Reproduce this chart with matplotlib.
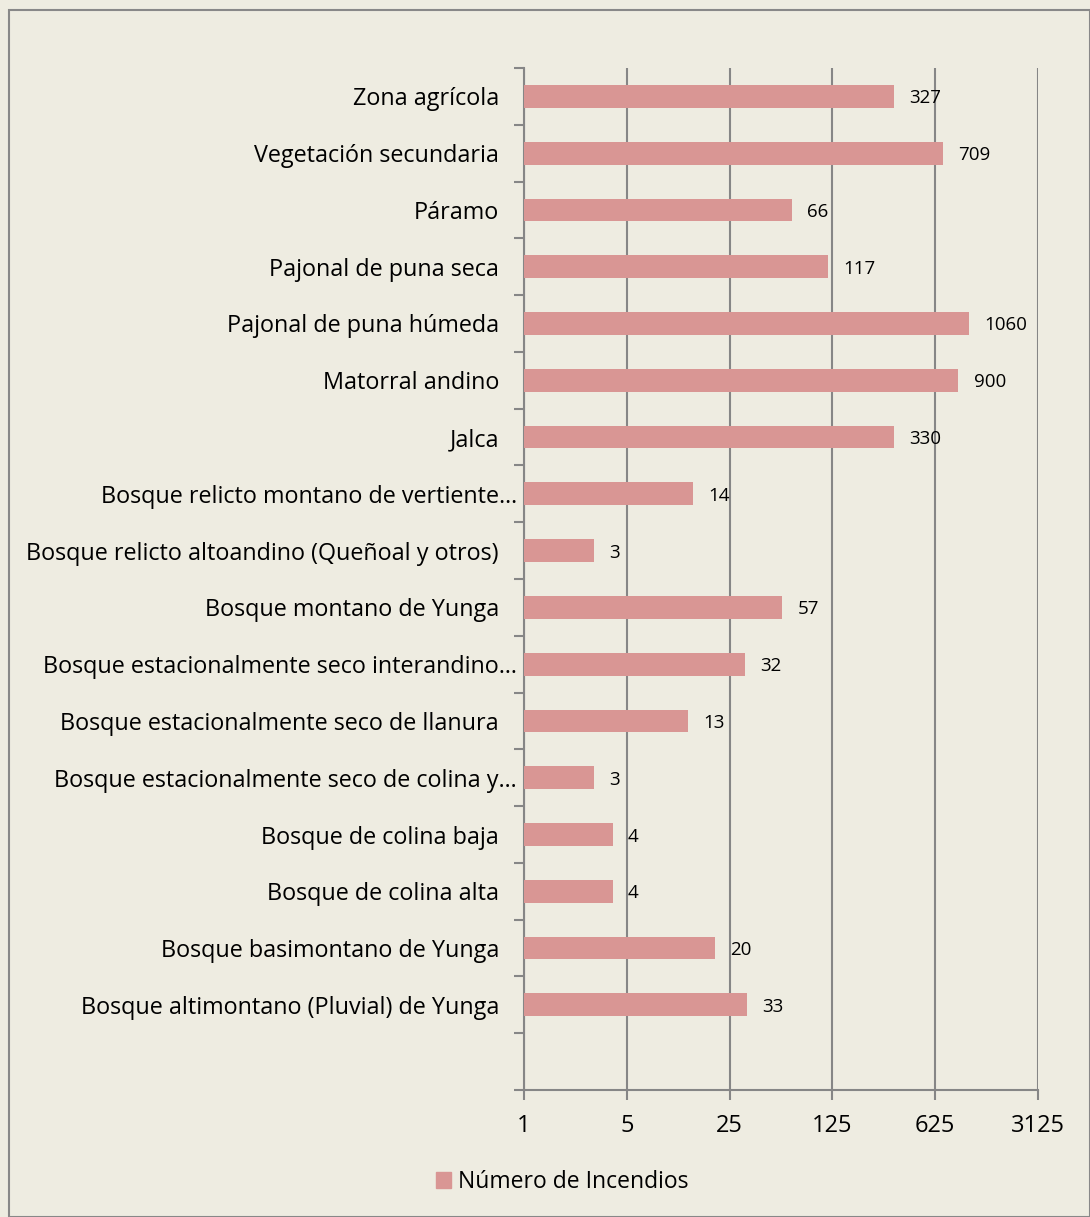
import matplotlib
matplotlib.use("Agg")
import matplotlib.pyplot as plt
from matplotlib.patches import Rectangle
import numpy as np

categories = [
    "Zona agrícola",
    "Vegetación secundaria",
    "Páramo",
    "Pajonal de puna seca",
    "Pajonal de puna húmeda",
    "Matorral andino",
    "Jalca",
    "Bosque relicto montano de vertiente…",
    "Bosque relicto altoandino (Queñoal y otros)",
    "Bosque montano de Yunga",
    "Bosque estacionalmente seco interandino…",
    "Bosque estacionalmente seco de llanura",
    "Bosque estacionalmente seco de colina y…",
    "Bosque de colina baja",
    "Bosque de colina alta",
    "Bosque basimontano de Yunga",
    "Bosque altimontano (Pluvial) de Yunga",
]
values = [327, 709, 66, 117, 1060, 900, 330, 14, 3, 57, 32, 13, 3, 4, 4, 20, 33]
xticks = [1, 5, 25, 125, 625, 3125]
series_name = "Número de Incendios"

bg = "#EEECE1"
bar_color = "#D99694"
grid_color = "#868686"

plt.rcParams['font.family'] = ['Open Sans', 'DejaVu Sans']

fig = plt.figure(figsize=(10.9, 12.17), dpi=100, facecolor=bg)
# outer border
fig.patches.append(Rectangle((9/1090, 0), (1090-9)/1090, (1217-10)/1217,
                             transform=fig.transFigure, fill=False,
                             edgecolor="#888888", linewidth=1.5))

ax = fig.add_axes([524/1090, 1 - 1090/1217, (1038-524)/1090, (1090-68)/1217])
ax.set_facecolor(bg)

n_slots = len(categories) + 1
y = np.arange(len(categories))
vals = np.array(values, dtype=float)
ax.barh(y, vals - 1, left=1, height=0.4, color=bar_color, zorder=3)
ax.set_xscale('log', base=5)
ax.set_xlim(1, 3125)
ax.set_ylim(n_slots - 0.5, -0.5)

ax.set_xticks(xticks)
ax.set_xticklabels([str(t) for t in xticks], fontsize=17)
ax.xaxis.set_minor_locator(matplotlib.ticker.NullLocator())
ax.tick_params(axis='x', length=7, width=1.5, color=grid_color, pad=10)
ax.grid(axis='x', color=grid_color, linewidth=1.5, zorder=0)

ax.set_yticks(y)
ax.set_yticklabels([])
ax.tick_params(axis='y', which='major', length=0)
ax.set_yticks(np.arange(n_slots + 1) - 0.5, minor=True)
ax.tick_params(axis='y', which='minor', length=7, width=1.5, color=grid_color)

for s in ['top', 'right']:
    ax.spines[s].set_visible(False)
for s in ['left', 'bottom']:
    ax.spines[s].set_color(grid_color)
    ax.spines[s].set_linewidth(1.5)

ytrans = ax.get_yaxis_transform()
for yi, c in zip(y, categories):
    off = -25 if not c.endswith("…") else -7
    ax.annotate(c, xy=(0, yi), xycoords=ytrans, xytext=(off * 0.72, 0),
                textcoords='offset points', ha='right', va='center_baseline',
                fontsize=16.8, annotation_clip=False)

for yi, v in zip(y, values):
    ax.annotate(str(v), xy=(v, yi), xytext=(11, 0), textcoords='offset points',
                va='center_baseline', ha='left', fontsize=13.5, zorder=4)

handle = Rectangle((0, 0), 1, 1, color=bar_color)
fig.legend([handle], [series_name], loc='center', bbox_to_anchor=(562/1090, 1 - 1182/1217),
           frameon=False, fontsize=16.5, handlelength=0.65, handleheight=0.65,
           handletextpad=0.3)

fig.savefig("out.png", dpi=100, facecolor=bg)
